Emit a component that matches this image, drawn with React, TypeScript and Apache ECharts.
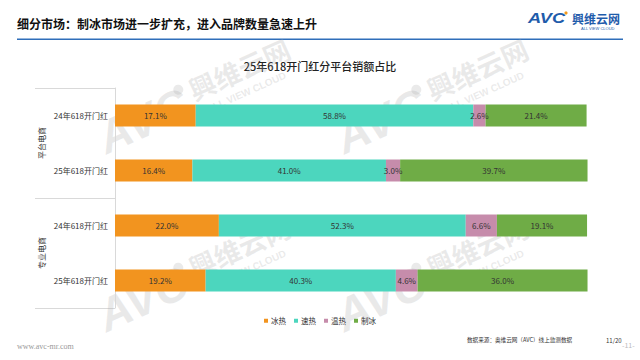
import React, { useEffect, useRef } from "react";
import * as echarts from "echarts";

const categories = ["24年618开门红", "25年618开门红", "24年618开门红", "25年618开门红"];
const groups = ["平台电商", "专业电商"];
const seriesNames = ["冰热", "速热", "温热", "制冰"];
const iceHot = [17.1, 16.4, 22.0, 19.2];
const fastHot = [58.8, 41.0, 52.3, 40.3];
const warmHot = [2.6, 3.0, 6.6, 4.6];
const iceMaking = [21.4, 39.7, 19.1, 36.0];
const colors = ["#F2941F", "#4CD6BE", "#C68CAB", "#6FAC46"];

const FONT = "'Noto Sans CJK SC', 'Noto Sans', sans-serif";
const WM = "rgba(170,170,170,0.25)";

function watermark(ox: number, oy: number) {
  return {
    type: "group",
    x: ox,
    y: oy,
    rotation: 0.42,
    silent: true,
    z: 100,
    children: [
      {
        type: "text",
        x: 0,
        y: 0,
        style: {
          text: "AVC",
          fontSize: 46,
          fontWeight: "bold",
          fontStyle: "italic",
          fontFamily: "Liberation Sans, Arial, sans-serif",
          fill: WM,
          verticalAlign: "middle",
        },
      },
      {
        type: "circle",
        shape: { cx: 92, cy: -14, r: 5 },
        style: { fill: WM },
      },
      {
        type: "text",
        x: 102,
        y: -8,
        style: {
          text: "興维云网",
          fontSize: 27,
          fontWeight: "bold",
          fontFamily: FONT,
          fill: WM,
          verticalAlign: "middle",
        },
      },
      {
        type: "text",
        x: 110,
        y: 16,
        style: {
          text: "ALL VIEW CLOUD",
          fontSize: 10,
          fontWeight: "bold",
          fontFamily: "Liberation Sans, Arial, sans-serif",
          fill: WM,
          verticalAlign: "middle",
        },
      },
    ],
  };
}

export default function App() {
  const ref = useRef<HTMLDivElement>(null);
  useEffect(() => {
    if (!ref.current) return;
    const chart = echarts.init(ref.current, null, { renderer: "svg" });
    const data = [iceHot, fastHot, warmHot, iceMaking];
    const option: any = {
      animation: false,
      backgroundColor: "#ffffff",
      textStyle: { fontFamily: FONT },
      grid: { left: 115, right: 52, top: 88, bottom: 52, containLabel: false },
      legend: {
        data: seriesNames,
        top: 312,
        left: "center",
        icon: "rect",
        itemWidth: 4,
        itemHeight: 4,
        itemGap: 8,
        textStyle: { fontSize: 7.5, color: "#333", fontFamily: FONT, padding: [0, 0, 0, -2] },
      },
      xAxis: { type: "value", min: 0, max: 100.2, show: false },
      yAxis: {
        type: "category",
        inverse: true,
        data: categories,
        axisLine: { show: true, lineStyle: { color: "#d9d9d9", width: 1 } },
        axisTick: { show: false },
        axisLabel: { fontSize: 8, color: "#333", margin: 7, fontFamily: FONT },
      },
      series: seriesNames.map((name, i) => ({
        name,
        type: "bar",
        stack: "total",
        barWidth: 22,
        itemStyle: { color: colors[i] },
        label: {
          show: true,
          position: "inside",
          fontSize: 8,
          color: "#333",
          fontFamily: FONT,
          formatter: (p: any) => Number(p.value).toFixed(1) + "%",
        },
        data: data[i],
      })),
      graphic: [
        {
          type: "text",
          left: 17,
          top: 17,
          style: {
            text: "细分市场：制冰市场进一步扩充，进入品牌数量急速上升",
            fontSize: 12,
            fontWeight: "bold",
            fill: "#111",
            fontFamily: FONT,
          },
        },
        {
          type: "rect",
          shape: { x: 17, y: 38.5, width: 606, height: 1.6 },
          style: { fill: "#2F6EBA" },
        },
        {
          type: "text",
          x: 528,
          y: 18,
          scaleX: 1.3,
          style: {
            text: "AVC",
            fontSize: 14,
            fontWeight: "bold",
            fontStyle: "italic",
            fontFamily: "Liberation Sans, Arial, sans-serif",
            fill: "#1F5CAB",
            verticalAlign: "middle",
          },
        },
        {
          type: "circle",
          shape: { cx: 566, cy: 13, r: 1.6 },
          style: { fill: "#F39A1E" },
        },
        {
          type: "text",
          x: 572,
          y: 18,
          style: {
            text: "興维云网",
            fontSize: 12,
            fontWeight: "bold",
            fontFamily: FONT,
            fill: "#1F5CAB",
            verticalAlign: "middle",
          },
        },
        {
          type: "text",
          x: 581,
          y: 28,
          style: {
            text: "ALL VIEW CLOUD",
            fontSize: 4,
            fontFamily: "Liberation Sans, Arial, sans-serif",
            fill: "#1F5CAB",
            verticalAlign: "middle",
          },
        },
        {
          type: "text",
          x: 320,
          y: 66,
          style: {
            text: "25年618开门红分平台销额占比",
            fontSize: 11,
            fontWeight: 500,
            fill: "#222",
            fontFamily: FONT,
            align: "center",
            verticalAlign: "middle",
          },
        },
        {
          type: "line",
          shape: { x1: 35, y1: 88.5, x2: 115, y2: 88.5 },
          style: { stroke: "#d9d9d9", lineWidth: 1 },
        },
        {
          type: "line",
          shape: { x1: 35, y1: 198.5, x2: 115, y2: 198.5 },
          style: { stroke: "#d9d9d9", lineWidth: 1 },
        },
        {
          type: "line",
          shape: { x1: 35, y1: 308.5, x2: 115, y2: 308.5 },
          style: { stroke: "#d9d9d9", lineWidth: 1 },
        },
        {
          type: "text",
          x: 41,
          y: 143,
          rotation: Math.PI / 2,
          style: {
            text: groups[0],
            fontSize: 8,
            fill: "#333",
            fontFamily: FONT,
            align: "center",
            verticalAlign: "middle",
          },
        },
        {
          type: "text",
          x: 41,
          y: 253,
          rotation: Math.PI / 2,
          style: {
            text: groups[1],
            fontSize: 8,
            fill: "#333",
            fontFamily: FONT,
            align: "center",
            verticalAlign: "middle",
          },
        },
        {
          type: "text",
          x: 467,
          y: 340,
          style: {
            text: "数据来源：奥维云网（AVC）线上监测数据",
            fontSize: 5.6,
            fill: "#333",
            fontFamily: FONT,
            verticalAlign: "middle",
          },
        },
        {
          type: "text",
          x: 606,
          y: 340,
          style: { text: "11/20", fontSize: 6, fill: "#333", fontFamily: FONT, verticalAlign: "middle" },
        },
        {
          type: "text",
          x: 622,
          y: 345,
          style: { text: "-11-", fontSize: 7, fill: "#bbb", fontFamily: FONT, verticalAlign: "middle" },
        },
        {
          type: "text",
          x: 17,
          y: 346,
          style: {
            text: "www.avc-mr.com",
            fontSize: 8,
            fill: "#999",
            fontFamily: "'Liberation Serif', 'DejaVu Serif', serif",
            verticalAlign: "middle",
          },
        },
        watermark(100, 140),
        watermark(338, 140),
        watermark(100, 318),
        watermark(338, 318),
      ],
    };
    chart.setOption(option);
    return () => chart.dispose();
  }, []);
  return (
    <div
      ref={ref}
      style={{ position: "fixed", left: 0, top: 0, width: 640, height: 360 }}
    />
  );
}
